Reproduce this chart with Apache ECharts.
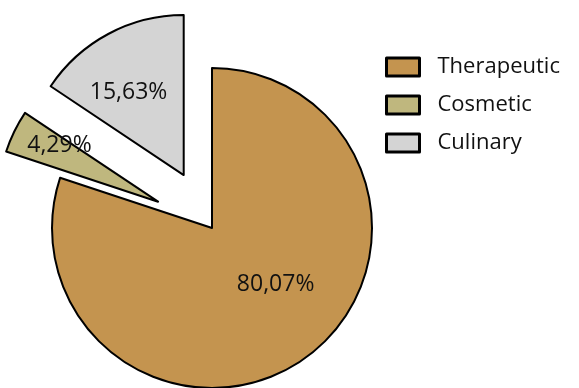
<!DOCTYPE html>
<html>
<head>
<meta charset="utf-8">
<script src="https://cdn.jsdelivr.net/npm/echarts@6/dist/echarts.min.js"></script>
<style>
  html, body { margin: 0; padding: 0; background: #fff; }
  #main { width: 579px; height: 388px; }
</style>
</head>
<body>
<div id="main"></div>
<script>
// data
var categories = ['Therapeutic', 'Cosmetic', 'Culinary'];
var shares = [80.07, 4.29, 15.63];
var exploded = [false, true, true];
var colors = ['#C4944F', '#BFB77E', '#D4D4D4'];

var chart = echarts.init(document.getElementById('main'));

// nudges for the inside labels, per slice
var labelShift = [[15, -11], [-24, -20], [-16, -9]];

var pieData = categories.map(function (name, i) {
  return {
    name: name,
    value: shares[i],
    selected: exploded[i],
    itemStyle: { color: colors[i] }
  };
});

chart.setOption({
  animation: false,
  legend: {
    orient: 'vertical',
    left: 380,
    top: 51,
    icon: 'rect',
    itemWidth: 33,
    itemHeight: 18,
    itemGap: 16,
    selectedMode: false,
    itemStyle: { borderColor: '#000', borderWidth: 3 },
    textStyle: { fontFamily: 'Open Sans', fontSize: 22, lineHeight: 20, color: '#111', padding: [0, 0, 0, 13] },
    data: categories
  },
  series: [{
    type: 'pie',
    center: [212, 228],
    radius: 160,
    startAngle: 90,
    clockwise: true,
    selectedMode: 'multiple',
    selectedOffset: 60,
    itemStyle: { borderColor: '#000', borderWidth: 2 },
    select: { itemStyle: { borderColor: '#000', borderWidth: 2 } },
    emphasis: { disabled: true },
    label: {
      position: 'inside',
      fontFamily: 'Open Sans',
      fontSize: 23,
      color: '#111',
      formatter: function (p) {
        return p.value.toFixed(2).replace('.', ',') + '%';
      }
    },
    labelLine: { show: false },
    labelLayout: function (params) {
      var s = labelShift[params.dataIndex];
      return { dx: s[0], dy: s[1] };
    },
    data: pieData
  }]
});
</script>
</body>
</html>
